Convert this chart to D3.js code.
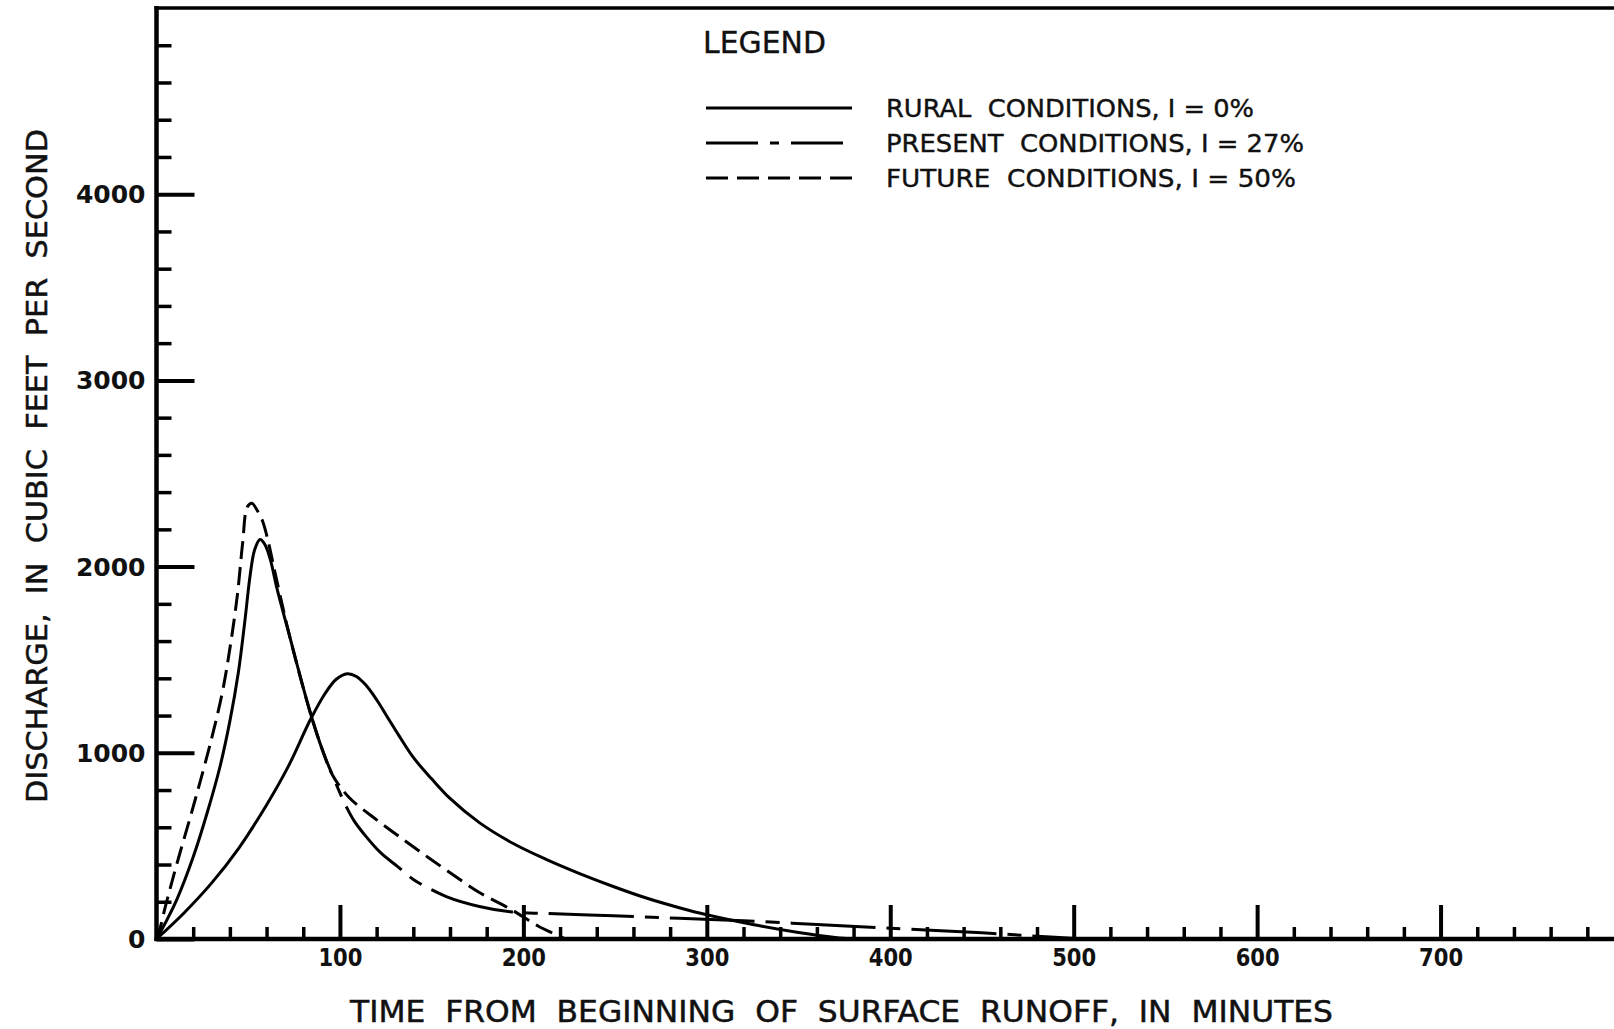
<!DOCTYPE html>
<html>
<head>
<meta charset="utf-8">
<script src="https://cdn.jsdelivr.net/npm/d3@7"></script>
<style>
  html, body { margin: 0; padding: 0; background: #fff; }
  svg text { font-family: "DejaVu Sans", "Liberation Sans", sans-serif; fill: #111; white-space: pre; }
</style>
</head>
<body>
<div id="chart"></div>
<script>
// Hydrographs (minutes, cubic feet per second)
const ruralTime = [0, 15, 30, 45, 60, 72, 84, 92, 98, 104, 109, 114, 120, 126, 132, 140, 150, 160, 176, 195, 213, 231, 249, 267, 285, 300, 325, 350, 370, 380];
const ruralQ    = [0, 140, 300, 490, 720, 930, 1180, 1320, 1395, 1425, 1410, 1365, 1285, 1190, 1095, 975, 860, 755, 625, 510, 425, 350, 282, 220, 168, 130, 78, 35, 8, 0];

const presentTime = [0, 5, 11, 20, 28, 34.6, 40, 44.6, 48.2, 51, 53.5, 56.4, 59, 62, 65.5, 73, 84, 91, 95.5, 100, 104, 108, 113, 122, 132, 140, 158, 176, 194, 212, 249, 285, 320, 360, 400, 450, 480, 505];
const presentQ    = [0, 90, 210, 440, 690, 925, 1170, 1430, 1710, 1950, 2090, 2145, 2120, 2040, 1890, 1610, 1210, 1000, 890, 785, 700, 630, 565, 465, 385, 320, 228, 175, 145, 137, 125, 111, 98, 78, 58, 33, 15, 0];

const futureTime = [0, 2, 5, 11, 21, 30, 36, 40, 44, 47, 49.5, 52, 55, 58, 61, 65, 73, 84, 91, 96, 105, 120, 133, 145, 158, 176, 194, 208, 223];
const futureQ    = [0, 60, 180, 400, 745, 1075, 1330, 1560, 1840, 2130, 2320, 2340, 2300, 2240, 2130, 1950, 1610, 1210, 1000, 880, 760, 640, 545, 460, 370, 250, 155, 70, 0];

const seriesNames = ["RURAL  CONDITIONS, I = 0%", "PRESENT  CONDITIONS, I = 27%", "FUTURE  CONDITIONS, I = 50%"];

const xMajorTicks = [100, 200, 300, 400, 500, 600, 700, 800];
const xMinorTicks = d3.range(20, 820, 20);
const yMajorTicks = [0, 1000, 2000, 3000, 4000];
const yMinorTicks = d3.range(200, 5000, 200);

const xTitle = "TIME  FROM  BEGINNING  OF  SURFACE  RUNOFF,  IN  MINUTES";
const yTitle = "DISCHARGE,  IN  CUBIC  FEET  PER  SECOND";

const width = 1614;
const height = 1029;

const svg = d3.select("#chart").append("svg")
    .attr("width", width)
    .attr("height", height);

const x = d3.scaleLinear().domain([0, 800]).range([156.5, 1624]);
const y = d3.scaleLinear().domain([0, 5000]).range([939, 8]);

// frame lines (left, bottom, top)
svg.append("line").attr("x1", x(0)).attr("x2", x(0)).attr("y1", y(5000) - 2).attr("y2", y(0) + 2)
    .attr("stroke", "#000").attr("stroke-width", 4.5);
svg.append("line").attr("x1", x(0) - 2).attr("x2", width).attr("y1", y(0)).attr("y2", y(0))
    .attr("stroke", "#000").attr("stroke-width", 4.5);
svg.append("line").attr("x1", x(0) - 2).attr("x2", width).attr("y1", y(5000)).attr("y2", y(5000))
    .attr("stroke", "#000").attr("stroke-width", 3.5);

// y ticks, pointing inward
const yMinor = svg.append("g").attr("transform", `translate(${x(0)},0)`)
    .call(d3.axisLeft(y).tickValues(yMinorTicks.filter(v => v % 1000 !== 0)).tickSizeInner(-15).tickSizeOuter(0).tickFormat(""));
const yMajor = svg.append("g").attr("transform", `translate(${x(0)},0)`)
    .call(d3.axisLeft(y).tickValues(yMajorTicks).tickSizeInner(-38).tickSizeOuter(0).tickPadding(11).tickFormat(d3.format("d")));

// x ticks, pointing up
const xMinor = svg.append("g").attr("transform", `translate(0,${y(0)})`)
    .call(d3.axisBottom(x).tickValues(xMinorTicks.filter(v => v % 100 !== 0)).tickSizeInner(-12).tickSizeOuter(0).tickFormat(""));
const xMajor = svg.append("g").attr("transform", `translate(0,${y(0)})`)
    .call(d3.axisBottom(x).tickValues(xMajorTicks).tickSizeInner(-34).tickSizeOuter(0).tickPadding(9).tickFormat(d => d < 800 ? d : ""));

[yMinor, yMajor, xMinor, xMajor].forEach(g => {
    g.select(".domain").remove();
    g.selectAll(".tick line").attr("stroke", "#000").attr("stroke-width", 3.5);
});
yMajor.selectAll(".tick line").attr("stroke-width", 4);
xMajor.selectAll(".tick line").attr("stroke-width", 4);
yMajor.selectAll(".tick text")
    .attr("font-size", 25).attr("font-weight", "bold").attr("dy", "0.34em").attr("fill", "#111");
xMajor.selectAll(".tick text")
    .attr("font-size", 25).attr("font-weight", "bold").attr("fill", "#111")
    .attr("textLength", 44).attr("lengthAdjust", "spacingAndGlyphs");

// axis titles
svg.append("text")
    .attr("x", 350).attr("y", 1022)
    .attr("font-size", 30)
    .attr("stroke", "#111").attr("stroke-width", 0.5)
    .attr("textLength", 983).attr("lengthAdjust", "spacingAndGlyphs")
    .text(xTitle);

svg.append("text")
    .attr("transform", "translate(47,803) rotate(-90)")
    .attr("font-size", 29)
    .attr("stroke", "#111").attr("stroke-width", 0.5)
    .attr("textLength", 674).attr("lengthAdjust", "spacingAndGlyphs")
    .text(yTitle);

// curves
const line = d3.line()
    .x(d => x(d[0]))
    .y(d => y(d[1]))
    .curve(d3.curveCatmullRom.alpha(0.5));

const presentPts = d3.zip(presentTime, presentQ);

// the drafted present curve is unbroken up to where it leaves the future curve
const probe = svg.append("path").attr("d", line(presentPts.filter(d => d[0] <= 95.5)));
const solidLen = probe.node().getTotalLength();
probe.remove();
const presentDash = [solidLen].concat(d3.range(20).flatMap(() => [11, 14, 11, 85])).join(",");

const curves = [
    { pts: d3.zip(ruralTime, ruralQ), dash: null },
    { pts: presentPts, dash: presentDash },
    { pts: d3.zip(futureTime, futureQ), dash: "18,8" }
];

svg.append("g")
    .selectAll("path")
    .data(curves)
    .enter().append("path")
    .attr("d", d => line(d.pts))
    .attr("fill", "none")
    .attr("stroke", "#000")
    .attr("stroke-width", 3)
    .attr("stroke-linejoin", "round")
    .attr("stroke-dasharray", d => d.dash);

// legend
svg.append("text")
    .attr("x", 703).attr("y", 53)
    .attr("font-size", 31)
    .attr("stroke", "#111").attr("stroke-width", 0.4)
    .attr("textLength", 123).attr("lengthAdjust", "spacingAndGlyphs")
    .text("LEGEND");

const legendRows = [
    { label: seriesNames[0], y: 108, dash: null, len: 368 },
    { label: seriesNames[1], y: 143, dash: "52,12,9,12", len: 418 },
    { label: seriesNames[2], y: 178, dash: "22,9", len: 410 }
];

const legend = svg.append("g")
    .selectAll("g")
    .data(legendRows)
    .enter().append("g");

legend.append("line")
    .attr("x1", 706).attr("x2", 852)
    .attr("y1", d => d.y).attr("y2", d => d.y)
    .attr("stroke", "#000")
    .attr("stroke-width", 3)
    .attr("stroke-dasharray", d => d.dash);

legend.append("text")
    .attr("x", 886)
    .attr("y", d => d.y + 9)
    .attr("font-size", 24)
    .attr("stroke", "#111").attr("stroke-width", 0.4)
    .attr("textLength", d => d.len).attr("lengthAdjust", "spacingAndGlyphs")
    .text(d => d.label);
</script>
</body>
</html>
